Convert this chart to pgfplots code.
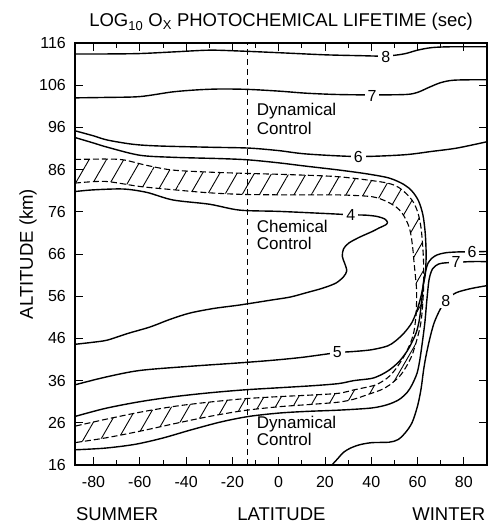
\documentclass[border=0pt]{standalone}
\usepackage{fontspec}
\setmainfont{Liberation Sans}
\usepackage{pgfplots}
\pgfplotsset{compat=1.18}
\usepgfplotslibrary{fillbetween}
\usetikzlibrary{patterns.meta}
\tikzset{
  lab/.style={fill=white, inner xsep=3pt, inner ysep=1pt, font=\fontsize{16}{16}\selectfont},
  txt/.style={anchor=base west, inner sep=0pt, font=\fontsize{17}{17}\selectfont},
}
\begin{document}
\begin{tikzpicture}
\begin{axis}[
  scale only axis, width=412pt, height=422pt,
  xmin=-88, xmax=90, ymin=16, ymax=116,
  xtick={-80,-60,...,80}, minor xtick={-70,-50,...,70},
  ytick={16,26,...,116},
  tick align=inside, major tick length=8pt, minor tick length=5pt,
  every tick/.style={black, line width=0.9pt},
  axis line style={line width=1.2pt},
  tick label style={font=\fontsize{16}{16}\selectfont},
  /pgf/number format/assume math mode=true,
  xticklabel style={anchor=base, yshift=-23pt},
  yticklabel style={anchor=east, inner sep=0pt, xshift=-9pt},
  clip=false,
  cont/.style={black, line width=1.4pt, smooth, no markers},
  band/.style={black, line width=1.1pt, smooth, no markers, dash pattern=on 6pt off 3pt},
]
% hatched transition band
\addplot[band, name path=outer] coordinates {
 (-88,88.4) (-75,88.5) (-67,88.3) (-57,87) (-46,85.9) (-30,85.4) (-14,85.1) (5,84.8)
 (26,84.3) (44,83.1) (50,82.3) (53.3,81.2) (56.5,79.5) (58.5,78) (60.3,75.5) (61.5,72.2)
 (62.2,68) (62.6,63.9) (62.6,58) (62,52.5) (61.2,49) (59.6,45.5) (57.6,42) (55,39.2)
 (52.2,37) (48,35) (44.2,33.8) (38,32.6) (32.5,31.6) (26,30.9) (15,30.4) (0,29.8)
 (-15,28.9) (-30,27.5) (-45,25.8) (-60,24) (-75,22.4) (-88,21.3)};
\addplot[band, name path=inner] coordinates {
 (-88,82.8) (-75,83.2) (-60,82) (-45,81.2) (-30,80.5) (-14,80.1) (10,80) (26,80) (40,79.6)
 (46,78.6) (50.6,77.2) (53.2,75.8) (55,74.1) (56.4,72.3) (57.3,70) (58,67) (58.5,63.9)
 (59.2,60) (59.6,57) (59.4,52) (58.5,47.8) (57,45) (54.2,41.8) (50.5,38.7) (46.9,36.6)
 (42,35) (36,34.2) (32.5,33.8) (26,33) (15,32.6) (0,32.2) (-15,31.7) (-30,30.9)
 (-45,29.9) (-60,28.5) (-75,26.8) (-88,25.2)};
\addplot[pattern={Lines[angle=60, distance=15pt, line width=0.9pt]}, draw=none]
  fill between[of=outer and inner];
% top contours
\addplot[cont] coordinates {(-88,113.4) (-75,113.4) (-60,113.5) (-45,113.9) (-30,114.3)
 (-17,114.1) (0,113.7) (20,113.2) (35,113) (46,112.9) (54,113.4) (60,114.3) (66,114.9) (74,115.1) (90,115.1)};
\addplot[cont] coordinates {(-88,103) (-75,103.1) (-60,103.3) (-46,104.4) (-35,104.9) (-25,105.1)
 (-13,105) (0,104.6) (12,104.1) (25,103.8) (40,103.7) (55,103.8) (60,104.3) (65,105.5) (70,106.6) (76,107.2) (90,107.3)};
\addplot[cont] coordinates {(-88,95.2) (-80,94) (-74,93) (-63,92) (-52,91.6) (-30,91.3) (-13,91.1)
 (0,90.5) (12,89.7) (34,89.1) (54,89.5) (66,90.3) (77,91.1) (90,92.6)};
% contour 5
\addplot[cont] coordinates {(-88,93.6) (-80,92.3) (-74,91.3) (-60,89.4) (-45,88.9) (-25,88.6)
 (-13,88.3) (0,87.6) (12,86.8) (26,85.9) (38,85) (47.7,84) (54,82.5) (57.6,80.9) (60.4,78.6)
 (62.3,75.3) (63.3,71) (63.7,66) (63.4,61.5) (62.6,59) (61.5,56) (59.8,52.7) (57.5,49.7)
 (54.2,47.3) (50.5,45.4) (47,44.2) (40,43.3) (32.5,42.9) (25,42.6) (10,41.5) (-3,40.8)
 (-17,40.2) (-38,39.4) (-60,38.4) (-75,36.8) (-88,35)};
% contour 4
\addplot[cont] coordinates {(-88,44.6) (-80,45.1) (-74,45.6) (-65,47.2) (-55.6,48.7) (-47,50.5)
 (-38.4,52) (-28,53.1) (-17,53.9) (-3,55.1) (5,55.8) (11.8,56.8) (19,57.9) (24.7,59.1) (28,60.6)
 (29.4,62) (28.5,63.8) (27.5,65.4) (28,67.2) (30.3,68.6) (35,70) (40.3,71.3) (43.5,72.2)
 (46.2,72.9) (47,73.5) (45.8,74.3) (42.5,74.9) (37.7,75.2) (31,75.3) (20,75.6) (0,76.1)
 (-16.9,76.4) (-30,77.8) (-45.7,78.8) (-57,80.6) (-67.2,81.4) (-80,81.2) (-88,80.8)};
% contour 6 (lower)
\addplot[cont] coordinates {(90,66.6) (83.5,66.5) (78,66.5) (72.2,66.3) (68.5,65.8) (66.2,65)
 (64.5,63.8) (63.5,62) (62.6,59.5) (61.8,55) (60.8,50.5) (59.5,47.5) (57.5,45) (55.5,43)
 (52,40.5) (48,38.6) (44,37.3) (40,36.5) (32.5,36) (26,35.3) (15,34.8) (0,34.3) (-15,33.8)
 (-30,33.1) (-45,32.2) (-60,31) (-75,29.4) (-88,27.5)};
% contour 7 (lower)
\addplot[cont] coordinates {(90,64.2) (83,64.2) (76.6,64) (72,63.9) (69,63.6) (66.5,62.5) (65,60)
 (64,55) (63.2,50) (62.2,45.6) (61,41) (59.8,37.8) (57.6,35) (55.5,33.2) (52,31.5) (47,30.3)
 (40,29.5) (26,29) (12,28.7) (0,28.3) (-13,27.5) (-25,26.2) (-38,24.3) (-50,22.4) (-62,20.9)
 (-75,20) (-88,19.6)};
% contour 8 (lower)
\addplot[cont] coordinates {(23,16) (25.5,17.5) (28,19) (31,20) (35,20.8) (40.3,21.3) (47.7,21.4)
 (51.5,22) (54.5,23.5) (57.6,26) (60,30) (61.5,34) (62.6,38.5) (63.7,42) (65.3,46) (67.1,49.6)
 (69.5,52.6) (72.2,55) (76.6,56.8) (83,57.8) (90,58.5)};
% dashed latitude line
\addplot[black, line width=1pt, dash pattern=on 6pt off 4pt] coordinates {(-13.6,16) (-13.6,116)};
% contour labels
\node[lab] at (axis cs:46.3,112.6) {8};
\node[lab] at (axis cs:40.3,103.4) {7};
\node[lab] at (axis cs:34.4,89.0) {6};
\node[lab] at (axis cs:31.2,75.2) {4};
\node[lab] at (axis cs:25.3,42.7) {5};
\node[lab] at (axis cs:83.5,66.4) {6};
\node[lab] at (axis cs:76.6,64.2) {7};
\node[lab] at (axis cs:72.2,54.9) {8};
% region texts
\node[txt] at (axis cs:-9.5,98.9) {Dynamical};
\node[txt] at (axis cs:-9.5,94.2) {Control};
\node[txt] at (axis cs:-9.5,71.0) {Chemical};
\node[txt] at (axis cs:-9.5,67.0) {Control};
\node[txt] at (axis cs:-9.5,24.7) {Dynamical};
\node[txt] at (axis cs:-9.5,20.7) {Control};
% titles
\node[anchor=base, inner sep=0pt, yshift=16pt, font=\fontsize{18.5}{19}\selectfont]
  at (rel axis cs:0.5,1) {LOG\textsubscript{10} O\textsubscript{X} PHOTOCHEMICAL LIFETIME (sec)};
\node[anchor=base, inner sep=0pt, xshift=-42pt, rotate=90, font=\fontsize{18.5}{19}\selectfont]
  at (rel axis cs:0,0.5) {ALTITUDE (km)};
\node[anchor=base, inner sep=0pt, yshift=-55pt, font=\fontsize{18.5}{19}\selectfont] at (axis cs:-69.8,16) {SUMMER};
\node[anchor=base, inner sep=0pt, yshift=-55pt, font=\fontsize{18.5}{19}\selectfont] at (axis cs:1.2,16) {LATITUDE};
\node[anchor=base, inner sep=0pt, yshift=-55pt, font=\fontsize{18.5}{19}\selectfont] at (axis cs:73.5,16) {WINTER};
\coordinate (bl) at (rel axis cs:0,0);
\coordinate (tr) at (rel axis cs:1,1);
\end{axis}
\pgfresetboundingbox
\path ([shift={(-75pt,-59pt)}]bl) rectangle ([shift={(1pt,43pt)}]tr);
\end{tikzpicture}
\end{document}
